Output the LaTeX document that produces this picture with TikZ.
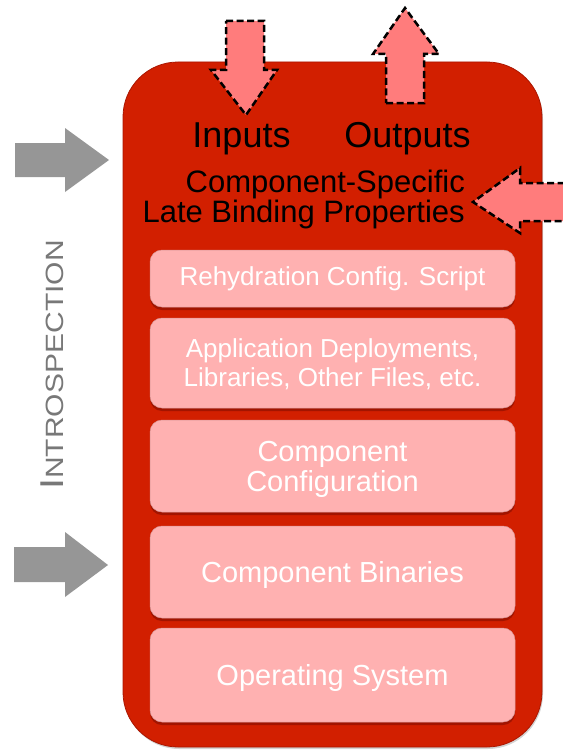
\documentclass[tikz,border=0pt]{standalone}
\usepackage{fontspec}
\setmainfont{Liberation Sans}
\newfontfamily\introfont[FakeStretch=1.2]{Liberation Sans}
\usetikzlibrary{shadows}
\definecolor{unitred}{RGB}{210,31,0}
\definecolor{unitedge}{RGB}{170,22,0}
\definecolor{layerpink}{RGB}{255,177,177}
\definecolor{layershade}{RGB}{150,18,0}
\definecolor{flowpink}{RGB}{255,124,124}
\definecolor{probegray}{RGB}{150,150,150}
\definecolor{labelgray}{RGB}{120,120,120}
\begin{document}
\begin{tikzpicture}[x=1pt,y=-1pt,
    unit/.style={draw=unitedge, line width=0.8pt, fill=unitred, rounded corners=55pt,
      inner sep=0pt, drop shadow={shadow xshift=1pt, shadow yshift=-2pt, opacity=0.35}},
    layer/.style={fill=layerpink, draw=layerpink!85!black, line width=0.5pt, rounded corners=12pt,
      minimum width=365pt, inner sep=0pt, text=white, align=center,
      drop shadow={shadow xshift=0pt, shadow yshift=-3pt, fill=layershade, opacity=0.8}},
    flow/.style={fill=flowpink, draw=black, line width=2.5pt, dash pattern=on 7pt off 3.5pt, line join=miter},
    probe/.style={fill=probegray, draw=none}]
    \useasboundingbox (0,0) rectangle (562,752);
    {\fontsize{26}{29}\selectfont

    % Drawing the component unit
    \node [unit, minimum width=419pt, minimum height=685pt] (unit) at (332.5,404.5) {};

    % Drawing the layers
    \node [layer, minimum height=57pt] (script) at (332.5,278.5) {Rehydration Config. Script};
    \node [layer, minimum height=90pt, text depth=0pt] (deploy) at (332.5,363) {Application Deployments,\\Libraries, Other Files, etc.};
    {\fontsize{29}{30}\selectfont
    \node [layer, minimum height=92pt, text depth=0pt] (config) at (332.5,466) {Component\\Configuration};
    \node [layer, minimum height=92pt, text depth=0pt] (binaries) at (332.5,572) {Component Binaries};
    \node [layer, minimum height=94pt, text depth=0pt] (os) at (332.5,675) {Operating System};
    }

    % Marking inputs and outputs
    {\fontsize{36}{36}\selectfont
    \node [anchor=base, inner sep=0pt] (inputs) at (241.5,147) {Inputs};
    \node [anchor=base, inner sep=0pt] (outputs) at (407.5,147) {Outputs};
    }

    % Marking late binding properties
    {\fontsize{31}{30}\selectfont
    \node [anchor=north east, align=right, inner sep=0pt] (late) at (465,170) {Component-Specific\\Late Binding Properties};
    }

    % Drawing arrow into inputs
    \draw [flow] (226,21) -- (264,21) -- (264,70) -- (277,70) -- (246,115) -- (211,70) -- (226,70) -- cycle;%

    % Drawing arrow out of outputs
    \draw [flow] (386,103) -- (424,103) -- (424,54) -- (439,54) -- (405,8) -- (373,54) -- (386,54) -- cycle;%

    % Drawing arrow into late binding properties
    \fill [flowpink] (575,183) -- (520,183) -- (520,168) -- (473,202) -- (520,233) -- (520,221) -- (575,221) -- cycle;%
    \draw [flow, fill=none] (575,183) -- (520,183) -- (520,168) -- (473,202) -- (520,233) -- (520,221) -- (575,221);%

    % Drawing introspection arrows
    \fill [probe] (15,143) -- (65,143) -- (65,128) -- (109,160) -- (65,192) -- (65,177) -- (15,177) -- cycle;%
    \fill [probe] (14,547) -- (65,547) -- (65,532) -- (108,565) -- (65,597) -- (65,582) -- (14,582) -- cycle;%

    % Marking introspection
    \node [rotate=90, anchor=base, inner sep=0pt, text=labelgray] (intro) at (63,365)
      {\introfont{\fontsize{33}{33}\selectfont I}{\fontsize{25}{25}\selectfont NTROSPECTION}};
    }
\end{tikzpicture}
\end{document}
